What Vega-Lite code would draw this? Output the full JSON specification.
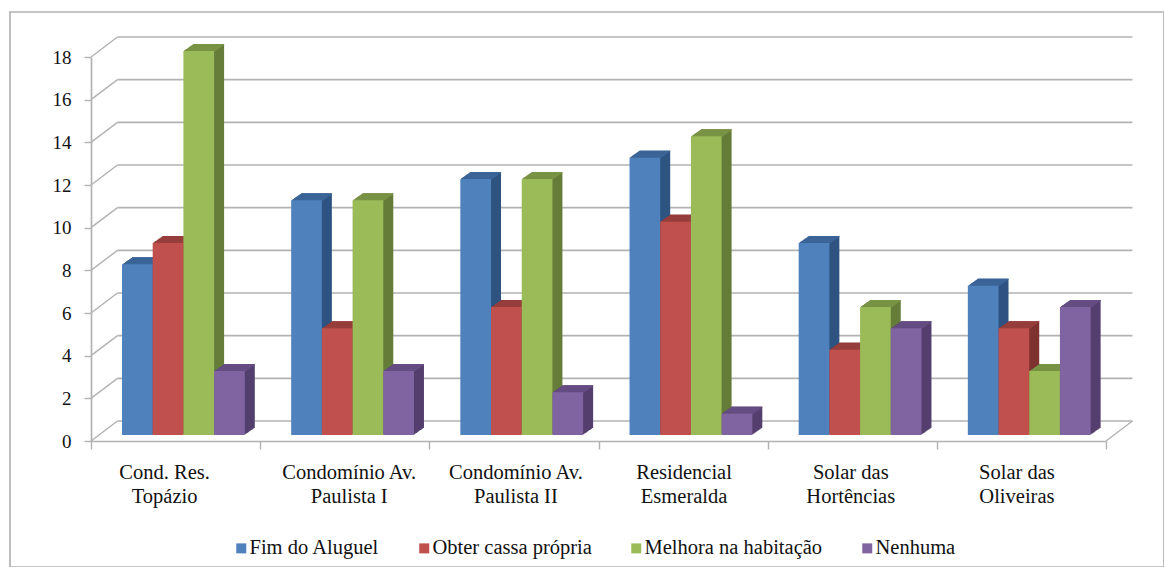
{"$schema":"https://vega.github.io/schema/vega-lite/v6.json","autosize":"none","width":1154,"height":555,"padding":{"left":10,"top":12,"right":0,"bottom":0},"background":"#ffffff","config":{"view":{"stroke":"#b2b2b2","strokeWidth":1.7},"font":"Liberation Serif"},"datasets":{"barras":[
{"local":"Cond. Res. Topázio","serie":"Fim do Aluguel","valor":8},{"local":"Cond. Res. Topázio","serie":"Obter cassa própria","valor":9},{"local":"Cond. Res. Topázio","serie":"Melhora na habitação","valor":18},{"local":"Cond. Res. Topázio","serie":"Nenhuma","valor":3},
{"local":"Condomínio Av. Paulista I","serie":"Fim do Aluguel","valor":11},{"local":"Condomínio Av. Paulista I","serie":"Obter cassa própria","valor":5},{"local":"Condomínio Av. Paulista I","serie":"Melhora na habitação","valor":11},{"local":"Condomínio Av. Paulista I","serie":"Nenhuma","valor":3},
{"local":"Condomínio Av. Paulista II","serie":"Fim do Aluguel","valor":12},{"local":"Condomínio Av. Paulista II","serie":"Obter cassa própria","valor":6},{"local":"Condomínio Av. Paulista II","serie":"Melhora na habitação","valor":12},{"local":"Condomínio Av. Paulista II","serie":"Nenhuma","valor":2},
{"local":"Residencial Esmeralda","serie":"Fim do Aluguel","valor":13},{"local":"Residencial Esmeralda","serie":"Obter cassa própria","valor":10},{"local":"Residencial Esmeralda","serie":"Melhora na habitação","valor":14},{"local":"Residencial Esmeralda","serie":"Nenhuma","valor":1},
{"local":"Solar das Hortências","serie":"Fim do Aluguel","valor":9},{"local":"Solar das Hortências","serie":"Obter cassa própria","valor":4},{"local":"Solar das Hortências","serie":"Melhora na habitação","valor":6},{"local":"Solar das Hortências","serie":"Nenhuma","valor":5},
{"local":"Solar das Oliveiras","serie":"Fim do Aluguel","valor":7},{"local":"Solar das Oliveiras","serie":"Obter cassa própria","valor":5},{"local":"Solar das Oliveiras","serie":"Melhora na habitação","valor":3},{"local":"Solar das Oliveiras","serie":"Nenhuma","valor":6}],
"grade":[{"v":0},{"v":2},{"v":4},{"v":6},{"v":8},{"v":10},{"v":12},{"v":14},{"v":16},{"v":18}],"piso":[{"v":0}]},
"resolve":{"scale":{"color":"independent","xOffset":"independent"}},
"layer":[
{"data":{"name":"grade"},"mark":{"type":"rule","color":"#b2b2b2","strokeWidth":1.7,"xOffset":26.5,"x2Offset":111,"yOffset":-20,"y2Offset":-20},"encoding":{"x":{"datum":"Cond. Res. Topázio","bandPosition":0},"x2":{"datum":"Solar das Oliveiras"},"y":{"field":"v","type":"quantitative","scale":{"domain":[0,18],"range":[429,45]},"title":null},"y2":{"field":"v"}}},
{"data":{"name":"grade"},"mark":{"type":"rule","color":"#b2b2b2","strokeWidth":1.4,"x2Offset":-58.1,"y2Offset":-20},"encoding":{"x":{"datum":"Cond. Res. Topázio","bandPosition":0},"x2":{"datum":"Cond. Res. Topázio"},"y":{"field":"v","type":"quantitative","title":null},"y2":{"field":"v"}}},
{"data":{"name":"piso"},"mark":{"type":"rule","color":"#b2b2b2","strokeWidth":1.4,"x2Offset":111,"y2Offset":-20},"encoding":{"x":{"datum":"Solar das Oliveiras","bandPosition":1},"x2":{"datum":"Solar das Oliveiras"},"y":{"field":"v","type":"quantitative","title":null},"y2":{"field":"v"}}},
{"data":{"name":"barras"},"encoding":{
"x":{"field":"local","type":"nominal","sort":null,"title":null,"scale":{"domain":["Cond. Res. Topázio","Condomínio Av. Paulista I","Condomínio Av. Paulista II","Residencial Esmeralda","Solar das Hortências","Solar das Oliveiras"],"range":[81,1096],"paddingInner":0,"paddingOuter":0},"axis":{"orient":"bottom","offset":-126,"domainColor":"#b2b2b2","domainWidth":1.7,"tickColor":"#b2b2b2","tickWidth":1.4,"tickSize":8,"tickBand":"extent","labelAngle":0,"labelAlign":"center","labelFont":"Liberation Serif","labelFontSize":20.5,"labelColor":"#111111","labelPadding":23,"labelLineHeight":24,"labelLimit":0,"labelExpr":"split(datum.label, / (?=Top|Paul|Esm|Hort|Oliv)/)","labelOffset":{"expr":"datum.value=='Cond. Res. Topázio'?-11.5:datum.value=='Condomínio Av. Paulista I'?4:datum.value=='Condomínio Av. Paulista II'?1.5:datum.value=='Residencial Esmeralda'?0.5:datum.value=='Solar das Hortências'?-2:-5"}}},
"y":{"field":"valor","type":"quantitative","stack":null,"title":null,"scale":{"domain":[0,18],"range":[429,45]},"axis":{"orient":"left","offset":-81,"values":[0,2,4,6,8,10,12,14,16,18],"grid":false,"domainColor":"#b2b2b2","domainWidth":1.7,"tickColor":"#b2b2b2","tickWidth":1.4,"tickSize":7,"labelFont":"Liberation Serif","labelFontSize":19,"labelColor":"#111111","labelPadding":13}}},
"resolve":{"scale":{"color":"independent","xOffset":"independent"}},
"layer":[
{"encoding":{"y2":{"datum":0},"color":{"field":"serie","type":"nominal","sort":null,"legend":null,"scale":{"domain":["Fim do Aluguel","Obter cassa própria","Melhora na habitação","Nenhuma"],"range":["#2f5482","#7f3230","#667d3a","#543f6e"]}}},"resolve":{"scale":{"xOffset":"independent"}},"layer":[
{"mark":{"type":"bar","yOffset":-13,"y2Offset":-13},"encoding":{"xOffset":{"field":"serie","sort":null,"scale":{"range":[41,163.8],"paddingInner":0,"paddingOuter":0}}}},
{"mark":{"type":"bar","yOffset":-12.3,"y2Offset":-12.3},"encoding":{"xOffset":{"field":"serie","sort":null,"scale":{"range":[40,162.8],"paddingInner":0,"paddingOuter":0}}}},
{"mark":{"type":"bar","yOffset":-11.6,"y2Offset":-11.6},"encoding":{"xOffset":{"field":"serie","sort":null,"scale":{"range":[39,161.8],"paddingInner":0,"paddingOuter":0}}}},
{"mark":{"type":"bar","yOffset":-10.9,"y2Offset":-10.9},"encoding":{"xOffset":{"field":"serie","sort":null,"scale":{"range":[38,160.8],"paddingInner":0,"paddingOuter":0}}}},
{"mark":{"type":"bar","yOffset":-10.2,"y2Offset":-10.2},"encoding":{"xOffset":{"field":"serie","sort":null,"scale":{"range":[37,159.8],"paddingInner":0,"paddingOuter":0}}}},
{"mark":{"type":"bar","yOffset":-9.5,"y2Offset":-9.5},"encoding":{"xOffset":{"field":"serie","sort":null,"scale":{"range":[36,158.8],"paddingInner":0,"paddingOuter":0}}}},
{"mark":{"type":"bar","yOffset":-8.8,"y2Offset":-8.8},"encoding":{"xOffset":{"field":"serie","sort":null,"scale":{"range":[35,157.8],"paddingInner":0,"paddingOuter":0}}}},
{"mark":{"type":"bar","yOffset":-8.1,"y2Offset":-8.1},"encoding":{"xOffset":{"field":"serie","sort":null,"scale":{"range":[34,156.8],"paddingInner":0,"paddingOuter":0}}}},
{"mark":{"type":"bar","yOffset":-7.4,"y2Offset":-7.4},"encoding":{"xOffset":{"field":"serie","sort":null,"scale":{"range":[33,155.8],"paddingInner":0,"paddingOuter":0}}}},
{"mark":{"type":"bar","yOffset":-6.7,"y2Offset":-6.7},"encoding":{"xOffset":{"field":"serie","sort":null,"scale":{"range":[32,154.8],"paddingInner":0,"paddingOuter":0}}}}]},
{"encoding":{"y2":{"field":"valor"},"color":{"field":"serie","type":"nominal","sort":null,"legend":null,"scale":{"domain":["Fim do Aluguel","Obter cassa própria","Melhora na habitação","Nenhuma"],"range":["#3c6598","#973f3c","#7a9446","#664e84"]}}},"resolve":{"scale":{"xOffset":"independent"}},"layer":[
{"mark":{"type":"bar","yOffset":-13,"y2Offset":-11.8},"encoding":{"xOffset":{"field":"serie","sort":null,"scale":{"range":[41,163.8],"paddingInner":0,"paddingOuter":0}}}},
{"mark":{"type":"bar","yOffset":-12.3,"y2Offset":-11.1},"encoding":{"xOffset":{"field":"serie","sort":null,"scale":{"range":[40,162.8],"paddingInner":0,"paddingOuter":0}}}},
{"mark":{"type":"bar","yOffset":-11.6,"y2Offset":-10.4},"encoding":{"xOffset":{"field":"serie","sort":null,"scale":{"range":[39,161.8],"paddingInner":0,"paddingOuter":0}}}},
{"mark":{"type":"bar","yOffset":-10.9,"y2Offset":-9.7},"encoding":{"xOffset":{"field":"serie","sort":null,"scale":{"range":[38,160.8],"paddingInner":0,"paddingOuter":0}}}},
{"mark":{"type":"bar","yOffset":-10.2,"y2Offset":-9},"encoding":{"xOffset":{"field":"serie","sort":null,"scale":{"range":[37,159.8],"paddingInner":0,"paddingOuter":0}}}},
{"mark":{"type":"bar","yOffset":-9.5,"y2Offset":-8.3},"encoding":{"xOffset":{"field":"serie","sort":null,"scale":{"range":[36,158.8],"paddingInner":0,"paddingOuter":0}}}},
{"mark":{"type":"bar","yOffset":-8.8,"y2Offset":-7.6},"encoding":{"xOffset":{"field":"serie","sort":null,"scale":{"range":[35,157.8],"paddingInner":0,"paddingOuter":0}}}},
{"mark":{"type":"bar","yOffset":-8.1,"y2Offset":-6.9},"encoding":{"xOffset":{"field":"serie","sort":null,"scale":{"range":[34,156.8],"paddingInner":0,"paddingOuter":0}}}},
{"mark":{"type":"bar","yOffset":-7.4,"y2Offset":-6.2},"encoding":{"xOffset":{"field":"serie","sort":null,"scale":{"range":[33,155.8],"paddingInner":0,"paddingOuter":0}}}},
{"mark":{"type":"bar","yOffset":-6.7,"y2Offset":-5.5},"encoding":{"xOffset":{"field":"serie","sort":null,"scale":{"range":[32,154.8],"paddingInner":0,"paddingOuter":0}}}}]},
{"mark":{"type":"bar","yOffset":-6,"y2Offset":-6},"encoding":{"y2":{"datum":0},"xOffset":{"field":"serie","sort":null,"scale":{"range":[31,153.8],"paddingInner":0,"paddingOuter":0}},"color":{"field":"serie","type":"nominal","sort":null,"title":null,"scale":{"domain":["Fim do Aluguel","Obter cassa própria","Melhora na habitação","Nenhuma"],"range":["#4f81bd","#c0504d","#9bbb59","#8064a2"]},"legend":{"orient":"none","legendX":221,"legendY":526,"direction":"horizontal","columns":4,"symbolType":"square","symbolSize":100,"symbolStrokeWidth":0,"labelFont":"Liberation Serif","labelFontSize":20.5,"labelColor":"#111111","labelOffset":-2,"labelLimit":0,"columnPadding":34}}}}
]}
]}
